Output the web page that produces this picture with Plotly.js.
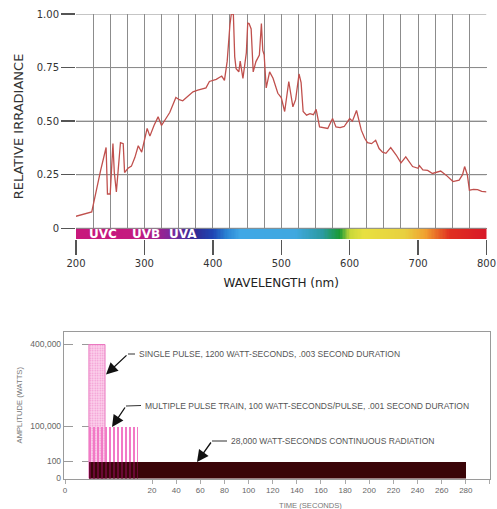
<!DOCTYPE html>
<html><head><meta charset="utf-8">
<script src="https://cdn.plot.ly/plotly-3.0.1.min.js"></script>
<style>html,body{margin:0;padding:0;background:#fff}#top{width:497px;height:300px;display:block}#bot{width:497px;height:209px;display:block}</style>
</head><body><div id="top"></div><div id="bot"></div>
<script>
// ---------- Top chart: relative spectral irradiance ----------
const wavelengthNm = [200,223,236,244,246,250,254,256,259,262,265,269,271,276,281,286,291,296,304,308,314,320,325,331,337,346,351,356,366,371,378,384,390,395,400,405,410,413,417,421,425,427,430,432,434,438,440,444,449,451,453,456,459,463,468,471,473,475,478,483,488,495,500,505,511,517,521,526,529,532,537,542,547,551,556,562,568,575,580,586,592,600,604,610,617,622,626,632,638,643,648,653,660,668,675,682,687,692,700,702,707,714,721,726,733,741,751,760,765,768,772,775,781,787,793,800];
const relativeIrradiance = [0.056,0.076,0.27,0.377,0.16,0.16,0.395,0.26,0.17,0.30,0.40,0.395,0.26,0.28,0.29,0.33,0.385,0.355,0.466,0.43,0.48,0.52,0.48,0.51,0.54,0.61,0.60,0.595,0.625,0.637,0.645,0.65,0.655,0.685,0.69,0.695,0.705,0.71,0.69,0.78,0.95,1.0,1.0,0.80,0.745,0.73,0.78,0.70,0.82,0.957,0.955,0.93,0.73,0.778,0.808,0.955,0.83,0.81,0.655,0.73,0.70,0.63,0.61,0.545,0.685,0.567,0.60,0.72,0.68,0.545,0.528,0.535,0.53,0.555,0.473,0.468,0.466,0.512,0.473,0.47,0.475,0.512,0.50,0.55,0.458,0.42,0.40,0.395,0.411,0.372,0.355,0.35,0.377,0.342,0.305,0.333,0.31,0.288,0.28,0.292,0.272,0.27,0.256,0.26,0.267,0.248,0.218,0.225,0.25,0.288,0.25,0.178,0.182,0.18,0.172,0.17];
const wavelengthTicks = [200,300,400,500,600,700,800];
const wavelengthTickLabels = ['200','300','400','500','600','700','800'];
const irradianceTicks = [0,0.25,0.5,0.75,1];
const irradianceTickLabels = ['0','0.25','0.50','0.75','1.00'];
const uvBands = ['UVC','UVB','UVA'];
const uvBandCentersNm = [240,302,356];
const spectrumStopsNm = [200,290,315,340,375,400,420,440,520,560,585,600,620,680,710,745,800];
const spectrumColors = ['#c8187c','#c41a80','#a81e8a','#7a2a9e','#302c94','#1e46b4','#2a84d4','#40a8e6','#40a8e0','#2a9aa0','#1a9a34','#c8d838','#e8e040','#e8d040','#f0a030','#e03020','#d81828'];

// ---------- Bottom chart: pulse comparison ----------
const pulseNames = ['Single pulse','Continuous radiation','Multiple pulse train'];
const pulseStartSec = [5.5, 5.5, 5.5];
const pulseEndSec = [9.2, 280, 16.8];
const pulseAmplitudeW = [400000, 100, 100000];
const amplitudeTicksW = [0,100,100000,400000];
const amplitudeTickLabels = ['0','100','100,000','400,000'];
const timeTicksSec = [0,20,40,60,80,100,120,140,160,180,200,220,240,260,280,300];
const pulseNotes = ['SINGLE PULSE, 1200 WATT-SECONDS, .003 SECOND DURATION',
                    'MULTIPLE PULSE TRAIN, 100 WATT-SECONDS/PULSE, .001 SECOND DURATION',
                    '28,000 WATT-SECONDS CONTINUOUS RADIATION'];

// broken (schematic) scales of the bottom chart
function timeScale(t){ return t <= 20 ? t*4.35 : 87 + (t-20)*1.207; }
const ampBreaks = [0,100,100000,400000], ampPos = [0,17,52,134];
function ampScale(a){
  for (let i=1;i<ampBreaks.length;i++){
    if (a <= ampBreaks[i]) return ampPos[i-1] + (a-ampBreaks[i-1])/(ampBreaks[i]-ampBreaks[i-1])*(ampPos[i]-ampPos[i-1]);
  }
  return ampPos[ampPos.length-1];
}

const topFont = 'DejaVu Sans, Arial, sans-serif';
const botFont = 'Liberation Sans, Arial, sans-serif';
const gridCol = '#8c8c8c';

// ===== top figure =====
const stripEdges = []; for (let w=200; w<=800; w+=2) stripEdges.push(w);
const stripZ = [stripEdges.slice(0,-1).map(w=>w+1)];
const colorscale = spectrumStopsNm.map((w,i)=>[(w-200)/600, spectrumColors[i]]);
const hGridX = [], hGridY = [];
irradianceTicks.forEach(v=>{ hGridX.push(200, 800, null); hGridY.push(v, v, null); });

const topTraces = [
  {type:'scatter', mode:'lines', x:hGridX, y:hGridY, hoverinfo:'skip', line:{color:gridCol, width:1}, name:'grid'},
  {type:'heatmap', x:stripEdges, y:[-0.05,0], z:stripZ, colorscale:colorscale, zmin:200, zmax:800, showscale:false, hoverinfo:'skip'},
  {type:'scatter', mode:'lines', x:wavelengthNm, y:relativeIrradiance, line:{color:'#c0504d', width:1.3}, name:'Relative irradiance'}
];
const topAnnotations = uvBands.map((b,i)=>({xref:'x', yref:'y', x:uvBandCentersNm[i], y:-0.026, text:b, showarrow:false,
  font:{family:topFont, size:12, color:'#ffffff', weight:'bold'}}));
const H1 = 300;
const topLayout = {
  width:497, height:H1, margin:{l:0,r:0,t:0,b:0}, paper_bgcolor:'#fff', plot_bgcolor:'#fff', showlegend:false,
  xaxis:{domain:[76/497, 486.5/497], range:[200,800], tickmode:'array', tickvals:wavelengthTicks, ticktext:wavelengthTickLabels,
    ticks:'outside', ticklen:15, tickwidth:1.5, tickcolor:'#555', showgrid:true, gridcolor:gridCol, gridwidth:1,
    minor:{tick0:200, dtick:25, showgrid:true, gridcolor:gridCol, gridwidth:1, ticks:''},
    zeroline:false, showline:false, automargin:false, fixedrange:true,
    tickfont:{family:topFont, size:10, color:'#333'},
    title:{text:'WAVELENGTH (nm)', font:{family:topFont, size:12, color:'#222'}, standoff:10}},
  yaxis:{domain:[1-239/H1, 1-14/H1], range:[-0.05,1.0], tickmode:'array', tickvals:irradianceTicks, ticktext:irradianceTickLabels,
    ticks:'outside', ticklen:14, tickwidth:1.5, tickcolor:'#555', showgrid:true, gridcolor:gridCol, gridwidth:1,
    zeroline:false, showline:false, automargin:false, fixedrange:true,
    tickfont:{family:topFont, size:10, color:'#333'},
    title:{text:'RELATIVE IRRADIANCE', font:{family:topFont, size:13, color:'#333'}, standoff:10}},
  annotations:topAnnotations
};
Plotly.newPlot('top', topTraces, topLayout, {staticPlot:true, displayModeBar:false});

// ===== bottom figure =====
const H2 = 209, OFF = 300;
function barTrace(i, opts){
  const x0 = timeScale(pulseStartSec[i]), x1 = timeScale(pulseEndSec[i]);
  return Object.assign({type:'bar', name:pulseNames[i], hoverinfo:'name',
    x:[(x0+x1)/2], width:[x1-x0], base:[0], y:[ampScale(pulseAmplitudeW[i])]}, opts);
}
const botTraces = [];
botTraces.push(barTrace(0, {marker:{color:'#fbc8e7', line:{color:'#ea78c0', width:1},
  pattern:{shape:'.', fgcolor:'#f294d0', bgcolor:'#fcd2ec', size:2.5, solidity:0.3}}}));
botTraces.push(barTrace(1, {marker:{color:'#3a0508', line:{width:0}}}));
(function(){
  const i = 2;
  const x0 = timeScale(pulseStartSec[i]), x1 = timeScale(pulseEndSec[i]);
  const lvl = ampScale(pulseAmplitudeW[1]);
  botTraces.push({type:'bar', name:pulseNames[i], hoverinfo:'name',
    x:[(x0+x1)/2,(x0+x1)/2], width:[x1-x0,x1-x0], base:[0,lvl], y:[lvl, ampScale(pulseAmplitudeW[i])-lvl],
    marker:{color:['#6a0834','#f27ac6'], line:{width:0},
      pattern:{shape:'|', fgcolor:['#d01a88','#d4168a'], bgcolor:['#5a0630','#f480c8'], size:4, solidity:0.5}}});
})();

const botShapes = [];
[0,2,1].forEach(i=>{
  const y = ampScale(pulseAmplitudeW[i]);
  botShapes.push({type:'line', xref:'x', yref:'y', x0:-1, x1:timeScale(pulseStartSec[i]), y0:y, y1:y,
    line:{color:'#9a9a9a', width:1, dash:'dash'}, layer:'below'});
});
const botAnnotations = [];
const noteGeom = [
  {tx:72, ty:124.5, ex:63, ey:124.5, hx:41, hy:104},
  {tx:78, ty:73, ex:61, ey:72.5, hx:47, hy:51.5},
  {tx:164, ty:37.5, ex:147, ey:37.5, hx:132, hy:16.5}
];
noteGeom.forEach((g,i)=>{
  botAnnotations.push({xref:'x', yref:'y', x:g.tx, y:g.ty, text:pulseNotes[i], showarrow:false, xanchor:'left', yanchor:'middle',
    font:{family:botFont, size:8.5, color:'#555'}});
  botShapes.push({type:'line', xref:'x', yref:'y', x0:g.ex, x1:g.tx-2, y0:g.ey, y1:g.ty, line:{color:'#333', width:1.2}});
  botAnnotations.push({xref:'x', yref:'y', x:g.hx, y:g.hy, ax:g.ex, ay:g.ey, axref:'x', ayref:'y', text:'',
    showarrow:true, arrowhead:2, arrowsize:1.8, arrowwidth:1.3, arrowcolor:'#111', standoff:0});
});
botAnnotations.push({xref:'paper', yref:'paper', x:310/497, y:1-(505-OFF)/H2, text:'TIME (SECONDS)', showarrow:false,
  xanchor:'center', yanchor:'middle', font:{family:botFont, size:7.6, color:'#777'}});

const botLayout = {
  width:497, height:H2, margin:{l:0,r:0,t:0,b:0}, paper_bgcolor:'#fff', plot_bgcolor:'#fff',
  showlegend:false, barmode:'overlay', bargap:0,
  xaxis:{domain:[64/497, 490/497], range:[-1,425], tickmode:'array', tickvals:timeTicksSec.map(timeScale), ticktext:timeTicksSec.map(String),
    ticks:'outside', ticklen:4, tickcolor:'#aaa', showline:true, mirror:true, linecolor:'#9a9a9a', linewidth:1.2,
    showgrid:false, zeroline:false, automargin:false, fixedrange:true,
    tickfont:{family:botFont, size:8, color:'#666'}},
  yaxis:{domain:[1-(478.5-OFF)/H2, 1-(332-OFF)/H2], range:[0,146.5], tickmode:'array', tickvals:amplitudeTicksW.map(ampScale), ticktext:amplitudeTickLabels,
    ticks:'', showline:true, mirror:true, linecolor:'#9a9a9a', linewidth:1.2, showgrid:false, zeroline:false, automargin:false, fixedrange:true,
    tickfont:{family:botFont, size:8.5, color:'#666'},
    title:{text:'AMPLITUDE (WATTS)', font:{family:botFont, size:7.6, color:'#777'}, standoff:6}},
  shapes:botShapes, annotations:botAnnotations
};
Plotly.newPlot('bot', botTraces, botLayout, {staticPlot:true, displayModeBar:false});
</script></body></html>
